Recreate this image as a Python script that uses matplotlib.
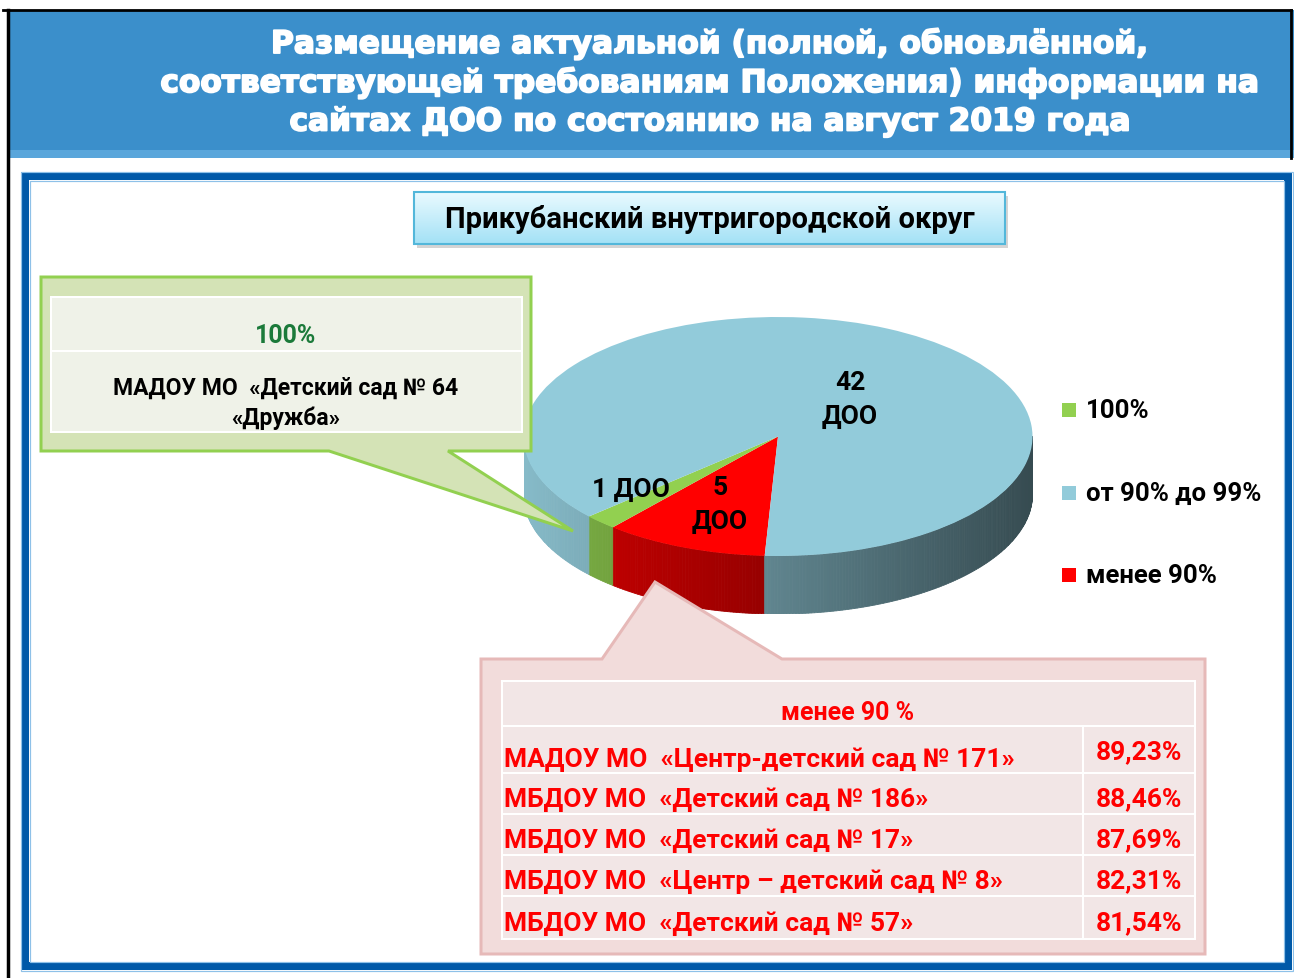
import numpy as np
import matplotlib
matplotlib.use("Agg")
import matplotlib.pyplot as plt
from matplotlib.patches import Rectangle, Polygon
from matplotlib.colors import to_rgb
import matplotlib.patheffects as pe

# ---------------- data ----------------
categories = ["100%", "от 90% до 99%", "менее 90%"]
counts = [1, 42, 5]
slice_labels = ["1 ДОО", "42\nДОО", "5\nДОО"]
colors = ["#92D050", "#92CBDA", "#FF0000"]

title_lines = ["Размещение актуальной (полной, обновлённой,",
               "соответствующей требованиям Положения) информации на",
               "сайтах ДОО по состоянию на август 2019 года"]
subtitle = "Прикубанский внутригородской округ"

full_header = "100%"
full_names = ["МАДОУ МО  «Детский сад № 64", "«Дружба»"]

low_header = "менее 90 %"
low_names = ["МАДОУ МО  «Центр-детский сад № 171»",
             "МБДОУ МО  «Детский сад № 186»",
             "МБДОУ МО  «Детский сад № 17»",
             "МБДОУ МО  «Центр – детский сад № 8»",
             "МБДОУ МО  «Детский сад № 57»"]
low_values = ["89,23%", "88,46%", "87,69%", "82,31%", "81,54%"]

# ---------------- figure ----------------
W, H = 1294, 979
fig = plt.figure(figsize=(W / 100, H / 100), dpi=100)
fig.patch.set_facecolor("white")

CAL = ["Roboto", "DejaVu Sans"]
PT = 0.72  # points per pixel


def pix_axes(z):
    a = fig.add_axes([0, 0, 1, 1], zorder=z)
    a.set_xlim(0, W)
    a.set_ylim(H, 0)
    a.axis("off")
    a.patch.set_alpha(0)
    return a


bg = pix_axes(0)

# header band
bg.add_patch(Rectangle((8, 11), W - 8, 140, fc="#3B8FCB", ec="none"))
bg.add_patch(Rectangle((8, 151), W - 8, 8, fc="#5AA6DB", ec="none"))
bg.plot([8, 8], [11, H], color="black", lw=2.5)
bg.plot([3, 1291], [11, 11], color="black", lw=2)
bg.plot([1291, 1291], [11, 159], color="black", lw=2)
for i, line in enumerate(title_lines):
    bg.text(710, 45 + i * 39, line, ha="center", va="center", color="white",
            fontsize=22.5, fontweight="bold", family=["DejaVu Sans"],
            path_effects=[pe.withStroke(linewidth=1.3, foreground="white")])

# blue frame
bg.add_patch(Rectangle((25, 177), 1263, 790, fc="none", ec="#0059A8", lw=8 * PT))
bg.add_patch(Rectangle((20.5, 172.5), 1272, 799, fc="none", ec="#8EC1E8", lw=1.2 * PT))
bg.add_patch(Rectangle((29.5, 181.5), 1254, 781, fc="none", ec="#8EC1E8", lw=1.2 * PT))

# subtitle box with gradient
grad = np.linspace(0, 1, 100)[:, None]
c_top = np.array(to_rgb("#EAFAFF"))
c_bot = np.array(to_rgb("#A3E1F6"))
img = c_top[None, None, :] * (1 - grad[..., None]) + c_bot[None, None, :] * grad[..., None]
bg.add_patch(Rectangle((417, 197), 591, 52, fc="#B8B8B8", ec="none", alpha=0.6))
bg.imshow(img, extent=[414, 1005, 245, 193], aspect="auto", zorder=2)
bg.add_patch(Rectangle((414, 193), 591, 52, fc="none", ec="#53B7DA", lw=1.5, zorder=3))
bg.text(710, 219, subtitle, ha="center", va="center", fontsize=21,
        fontweight="bold", family=CAL, color="black", zorder=4)
bg.set_xlim(0, W)
bg.set_ylim(H, 0)

# ---------------- 3D pie ----------------
cx, top_y, bot_y = 778, 318, 557
a_px = 254.5
b_px = (bot_y - top_y) / 2
depth_px = 58
depth = depth_px / b_px
left_px = cx - a_px
pie_ax = fig.add_axes([left_px / W, 1 - (bot_y + depth_px) / H,
                       2 * a_px / W, (bot_y + depth_px - top_y) / H], zorder=1)
pie_ax.patch.set_alpha(0)

order = [2, 0, 1]  # red, green, blue around the pie
pie_vals = [counts[i] for i in order]
pie_cols = [colors[i] for i in order]
side_gain = {"#FF0000": 0.9, "#92D050": 0.95, "#92CBDA": 1.0}
wedges, _ = pie_ax.pie(pie_vals, colors=pie_cols, startangle=-93,
                       counterclock=False, radius=1, center=(0, 0),
                       wedgeprops=dict(linewidth=0, zorder=3))
pie_ax.set_aspect("auto")
pie_ax.set_xlim(-1, 1)
pie_ax.set_ylim(-1 - depth, 1)
pie_ax.axis("off")


def draw_side(ax, t1, t2, base, gain):
    base = np.array(to_rgb(base))
    for k in range(-2, 3):
        lo = max(t1, -180 + 360 * k)
        hi = min(t2, 360 * k)
        if hi <= lo:
            continue
        n = max(int((hi - lo) / 0.7), 2)
        ts = np.linspace(lo, hi, n + 1)
        for a, b in zip(ts[:-1], ts[1:]):
            tt = np.radians(np.linspace(a, b, 3))
            xs, ys = np.cos(tt), np.sin(tt)
            xm = np.cos(np.radians((a + b) / 2))
            f = (0.92 - 0.55 * (xm + 1) / 2) * gain
            col = np.clip(base * f, 0, 1)
            ax.fill(np.concatenate([xs, xs[::-1]]),
                    np.concatenate([ys, ys[::-1] - depth]),
                    fc=col, ec=col, lw=0.6, zorder=1)


for w, c in zip(wedges, pie_cols):
    draw_side(pie_ax, w.theta1, w.theta2, c, side_gain[c])

# ---------------- overlay: callouts, labels, legend ----------------
ov = pix_axes(3)

# green callout
ov.add_patch(Polygon([(41, 278), (531, 278), (531, 452), (448, 452), (573, 532),
                      (329, 452), (41, 452)], closed=True, fc="#D4E3B6",
                     ec="#92D050", lw=3 * PT, joinstyle="miter"))
ov.add_patch(Rectangle((51, 298), 471, 54, fc="#EFF2E8", ec="white", lw=2 * PT))
ov.add_patch(Rectangle((51, 352), 471, 81, fc="#EFF2E8", ec="white", lw=2 * PT))
ov.text(286, 336, full_header, ha="center", va="center", fontsize=18,
        fontweight="bold", family=CAL, color="#1B7A3A")
ov.text(286, 388, full_names[0], ha="center", va="center", fontsize=16.5,
        fontweight="bold", family=CAL, color="black")
ov.text(286, 418, full_names[1], ha="center", va="center", fontsize=16.5,
        fontweight="bold", family=CAL, color="black")

# red callout
ov.add_patch(Polygon([(481, 660), (602, 660), (655, 583), (782, 660), (1205, 660),
                      (1205, 955), (481, 955)], closed=True, fc="#F2DCDB",
                     ec="#E6B9B8", lw=3 * PT, joinstyle="miter"))
tbl_x0, tbl_x1, col_x = 502, 1195, 1083
row_edges = [682, 727, 774, 815, 856, 897, 940]
ov.add_patch(Rectangle((tbl_x0, row_edges[0]), tbl_x1 - tbl_x0,
                       row_edges[1] - row_edges[0], fc="#F2E6E6", ec="white", lw=2 * PT))
for i in range(len(low_names)):
    y0, y1 = row_edges[i + 1], row_edges[i + 2]
    ov.add_patch(Rectangle((tbl_x0, y0), col_x - tbl_x0, y1 - y0,
                           fc="#F2E6E6", ec="white", lw=2 * PT))
    ov.add_patch(Rectangle((col_x, y0), tbl_x1 - col_x, y1 - y0,
                           fc="#F2E6E6", ec="white", lw=2 * PT))
    ym = (y0 + y1) / 2
    ov.text(504, ym + (9 if i == 0 else 5), low_names[i], ha="left", va="center",
            fontsize=19, fontweight="bold", family=CAL, color="#FF0000")
    ov.text(1182, ym + (2 if i == 0 else 5), low_values[i], ha="right", va="center",
            fontsize=19, fontweight="bold", family=CAL, color="#FF0000")
ov.text(848, 713, low_header, ha="center", va="center", fontsize=18,
        fontweight="bold", family=CAL, color="#FF0000")

# pie labels
ov.text(631, 490, slice_labels[0], ha="center", va="center", fontsize=19,
        fontweight="bold", family=CAL, color="black")
ov.text(850, 400, slice_labels[1], ha="center", va="center", fontsize=19,
        fontweight="bold", family=CAL, color="black", linespacing=1.5)
ov.text(720, 505, slice_labels[2], ha="center", va="center", fontsize=19,
        fontweight="bold", family=CAL, color="black", linespacing=1.5)

# legend
leg_y = [411, 494, 576]
for cat, col, y in zip(categories, colors, leg_y):
    ov.add_patch(Rectangle((1062, y - 7), 14, 14, fc=col, ec="none"))
    ov.text(1086, y, cat, ha="left", va="center", fontsize=18.5,
            fontweight="bold", family=CAL, color="black")

fig.savefig("out.png", dpi=100, facecolor="white")
